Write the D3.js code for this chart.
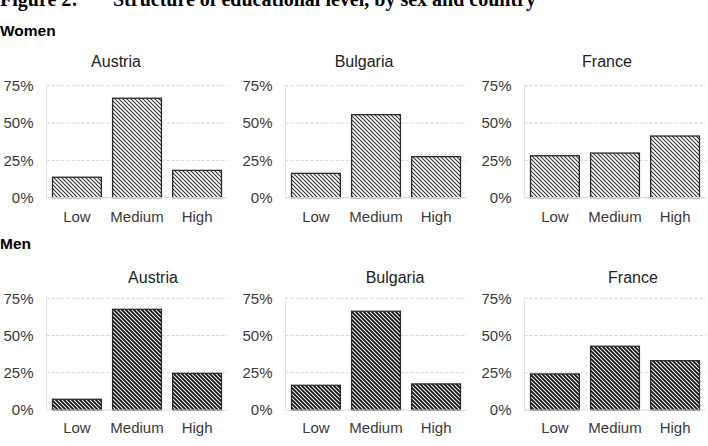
<!DOCTYPE html>
<html><head><meta charset="utf-8">
<script src="https://cdn.jsdelivr.net/npm/d3@7"></script>
<style>body{margin:0;background:#fff}svg{display:block}</style>
</head><body>
<script>
const categories = ["Low", "Medium", "High"];
const countries = ["Austria", "Bulgaria", "France"];
const womenValues = [[13.7, 66.6, 18.3], [16.3, 55.6, 27.5], [28.1, 29.9, 41.3]];
const menValues = [[7.2, 67.6, 24.6], [16.6, 66.3, 17.5], [24.2, 42.8, 33.1]];
const yTicks = [0, 25, 50, 75];
const tickLabels = ["0%", "25%", "50%", "75%"];
const sexLabels = ["Women", "Men"];

const W = 708, H = 446;
const svg = d3.select("body").append("svg").attr("width", W).attr("height", H);
const defs = svg.append("defs");
function hatch(id, color, sw) {
  const p = defs.append("pattern").attr("id", id).attr("patternUnits", "userSpaceOnUse")
    .attr("width", 4).attr("height", 4);
  p.append("rect").attr("width", 4).attr("height", 4).attr("fill", "#fff");
  p.append("path").attr("d", "M-1,-1 L5,5 M-1,3 L1,5 M3,-1 L5,1")
    .attr("stroke", color).attr("stroke-width", sw).attr("fill", "none");
}
hatch("hw", "#333", 1.1);
hatch("hm", "#111", 1.8);

// Figure title (clipped at top, as in the reference)
const ft = svg.append("text").attr("y", 6).attr("font-family", "Liberation Serif, Times New Roman, serif")
  .attr("font-weight", "bold").attr("font-size", 20).attr("fill", "#000");
ft.append("tspan").attr("x", 0).text("Figure 2:");
ft.append("tspan").attr("x", 113).text("Structure of educational level, by sex and country");

const rows = [
  {label: sexLabels[0], labelY: 36, y0: 197.7, y75: 85.7, titleY: 67, titleX: [116, 364, 607], xLabY: 221.5, values: womenValues, fill: "url(#hw)"},
  {label: sexLabels[1], labelY: 249, y0: 410, y75: 298.3, titleY: 282.5, titleX: [153, 395, 633], xLabY: 433, values: menValues, fill: "url(#hm)"}
];
const panelX = [46.5, 285.5, 524.5];
const plotW = 181;

rows.forEach(r => {
  svg.append("text").attr("x", 0).attr("y", r.labelY).text(r.label)
    .attr("font-family", "Liberation Sans, Arial, sans-serif").attr("font-weight", "bold")
    .attr("font-size", 15.5).attr("fill", "#000");
  const y = d3.scaleLinear().domain([0, 75]).range([r.y0, r.y75]);
  countries.forEach((c, ci) => {
    const x0 = panelX[ci];
    const x = d3.scaleBand().domain(categories).range([x0, x0 + plotW])
      .paddingInner(0.187).paddingOuter(0.1);
    const g = svg.append("g");
    g.selectAll("line.grid").data(yTicks.filter(t => t > 0)).join("line")
      .attr("x1", x0).attr("x2", x0 + plotW).attr("y1", d => y(d)).attr("y2", d => y(d))
      .attr("stroke", "#d4d4d4").attr("stroke-width", 1).attr("stroke-dasharray", "3,2");
    g.append("line").attr("x1", x0).attr("x2", x0).attr("y1", y(75)).attr("y2", y(0))
      .attr("stroke", "#e0e0e0").attr("stroke-width", 1);
    const yAxis = d3.axisLeft(y).tickValues(yTicks).tickSize(0).tickPadding(13)
      .tickFormat(d => tickLabels[yTicks.indexOf(d)]);
    const ya = svg.append("g").attr("transform", `translate(${x0},0)`).call(yAxis);
    ya.select(".domain").remove();
    ya.selectAll("text").attr("font-family", "Liberation Sans, Arial, sans-serif")
      .attr("font-size", 15).attr("fill", "#3a3a3a");
    g.selectAll("rect.bar").data(categories.map((k, i) => ({k, v: r.values[ci][i]}))).join("rect")
      .attr("x", d => x(d.k)).attr("width", x.bandwidth())
      .attr("y", d => y(d.v)).attr("height", d => y(0) - y(d.v))
      .attr("fill", r.fill).attr("stroke", "#2a2a2a").attr("stroke-width", 1.3);
    g.append("line").attr("x1", x0).attr("x2", x0 + plotW).attr("y1", y(0)).attr("y2", y(0))
      .attr("stroke", "#d9d9d9").attr("stroke-width", 1.2);
    const xAxis = d3.axisBottom(x).tickSize(0).tickPadding(0);
    const xa = svg.append("g").attr("transform", `translate(0,${r.xLabY})`).call(xAxis);
    xa.select(".domain").remove();
    xa.selectAll("text").attr("dy", 0).attr("y", 0).attr("font-family", "Liberation Sans, Arial, sans-serif")
      .attr("font-size", 15).attr("fill", "#3a3a3a");
    svg.append("text").attr("x", r.titleX[ci]).attr("y", r.titleY).attr("text-anchor", "middle")
      .attr("font-family", "Liberation Sans, Arial, sans-serif").attr("font-size", 16)
      .attr("fill", "#222").text(c);
  });
});
</script>
</body></html>
